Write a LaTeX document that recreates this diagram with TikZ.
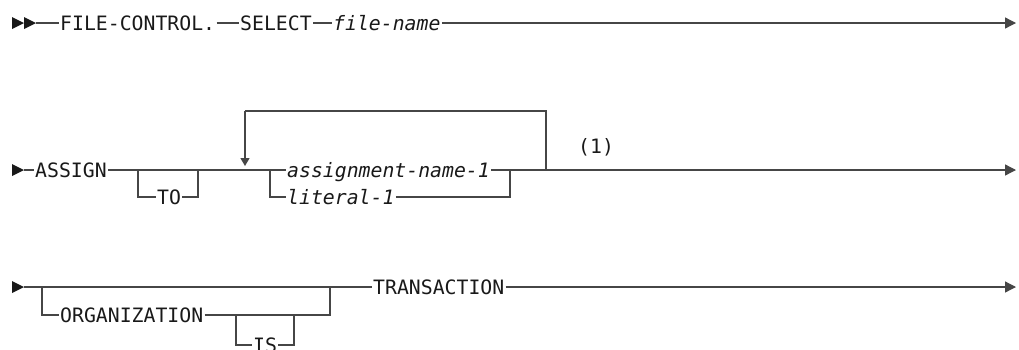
\documentclass[tikz,border=0pt]{standalone}
\usepackage{fontspec}
\usetikzlibrary{arrows.meta}
\newfontfamily\monof{DejaVu Sans Mono}
\definecolor{linec}{RGB}{70,70,70}
\definecolor{inkc}{RGB}{25,25,25}
\begin{document}
\begin{tikzpicture}[x=1pt,y=-1pt,
  kw/.style={font=\monof\fontsize{19.8}{21}\selectfont, text=inkc, inner xsep=1.2pt, inner ysep=0pt,
             text height=14pt, text depth=0pt, anchor=west},
  var/.style={kw, font=\monof\itshape\fontsize{19.8}{21}\selectfont},
  rl/.style={draw=linec, line width=1.3pt},
  tipd/.style={-{Triangle[length=11pt,width=11pt]}, rl},
  tips/.style={-{Triangle[length=8pt,width=9pt]}, rl},
  headc/.style={fill=inkc}]
\useasboundingbox (0,0) rectangle (1019,349);

% ---------- row 1 ----------
\fill[headc] (12,17) -- (24,23) -- (12,29) -- cycle;
\fill[headc] (24,17) -- (36,23) -- (24,29) -- cycle;
\coordinate (s1) at (36,23);
\node[kw]  (fc)  at (58.8,23) {FILE-CONTROL.};
\node[kw]  (sel) at (238.8,23) {SELECT};
\node[var] (fn)  at (331.8,23) {file-name};
\coordinate (e1) at (1016,23);
\draw[rl] (s1) -- (fc.west);
\draw[rl] (fc.east) -- (sel.west);
\draw[rl] (sel.east) -- (fn.west);
\draw[tipd] (fn.east) -- (e1);

% ---------- row 2 ----------
\fill[headc] (12,164) -- (24,170) -- (12,176) -- cycle;
\coordinate (s2) at (24,170);
\node[kw]  (as)  at (33.8,170) {ASSIGN};
\node[kw]  (to)  at (155.8,197) {TO};
\node[var] (an)  at (285.8,170) {assignment-name-1};
\node[var] (lit) at (285.8,197) {literal-1};
\node[kw]  (n1)  at (576.8,146) {(1)};
\coordinate (e2) at (1016,170);
\coordinate (tol) at (138,170);
\coordinate (tor) at (198,170);
\coordinate (chl) at (270,170);
\coordinate (chr) at (510,170);
\coordinate (lpr) at (546,170);
\coordinate (lpl) at (245,111);
\draw[rl] (s2) -- (as.west);
\draw[rl] (as.east) -- (an.west);
\draw[tipd] (an.east) -- (e2);
% optional TO
\draw[rl] (tol) |- (to.west);
\draw[rl] (to.east) -| (tor);
% choice
\draw[rl] (chl) |- (lit.west);
\draw[rl] (lit.east) -| (chr);
% repeat loop
\draw[rl] (lpr) -- (lpr |- lpl) -- (lpl);
\draw[tips] (lpl) -- (245,166);

% ---------- row 3 ----------
\fill[headc] (12,281) -- (24,287) -- (12,293) -- cycle;
\coordinate (s3) at (24,287);
\node[kw] (org) at (58.8,315) {ORGANIZATION};
\node[kw] (is)  at (251.8,345) {IS};
\node[kw] (tr)  at (371.8,287) {TRANSACTION};
\coordinate (e3) at (1016,287);
\coordinate (orl) at (42,287);
\coordinate (orr) at (330,287);
\coordinate (isl) at (236,315);
\coordinate (isr) at (294,315);
\draw[rl] (s3) -- (tr.west);
\draw[tipd] (tr.east) -- (e3);
\draw[rl] (orl) |- (org.west);
\draw[rl] (org.east) -| (orr);
\draw[rl] (isl) |- (is.west);
\draw[rl] (is.east) -| (isr);
\end{tikzpicture}
\end{document}
